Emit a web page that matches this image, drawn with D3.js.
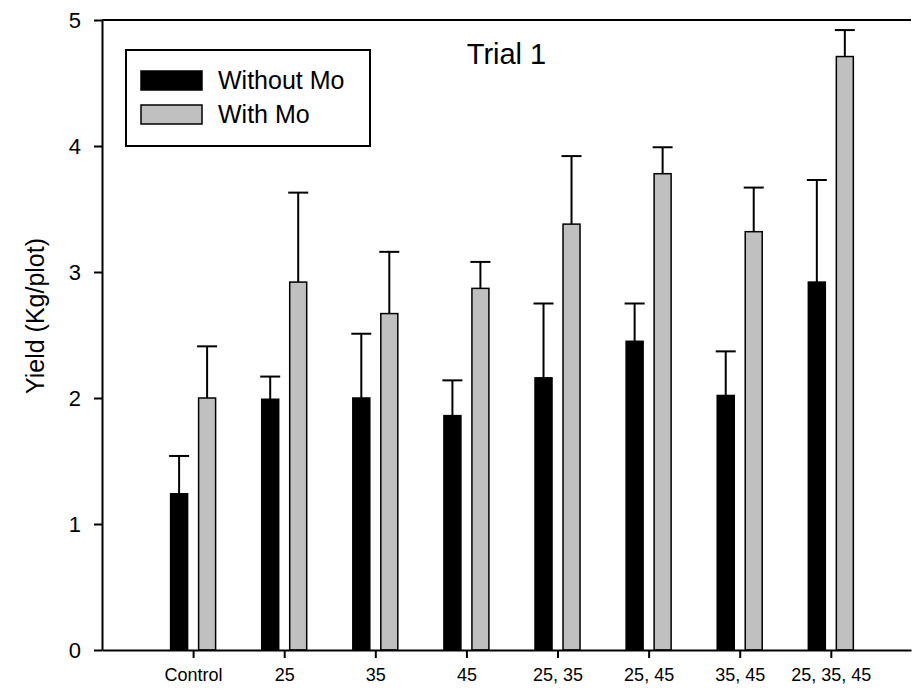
<!DOCTYPE html>
<html>
<head>
<meta charset="utf-8">
<script src="https://cdn.jsdelivr.net/npm/d3@7"></script>
<style>
  body { margin: 0; background: #fff; }
  svg text { font-family: "Liberation Sans", Arial, sans-serif; fill: #000; }
</style>
</head>
<body>
<div id="chart"></div>
<script>
// data
var categories = ["Control", "25", "35", "45", "25, 35", "25, 45", "35, 45", "25, 35, 45"];
var withoutMo = [1.24, 1.99, 2.00, 1.86, 2.16, 2.45, 2.02, 2.92];
var withoutMoErr = [0.30, 0.18, 0.51, 0.28, 0.59, 0.30, 0.35, 0.81];
var withMo = [2.00, 2.92, 2.67, 2.87, 3.38, 3.78, 3.32, 4.71];
var withMoErr = [0.41, 0.71, 0.49, 0.21, 0.54, 0.21, 0.35, 0.21];
var yTicks = [0, 1, 2, 3, 4, 5];

var width = 917, height = 694;
var margin = {top: 20, right: 6, bottom: 44, left: 102};

var svg = d3.select("#chart").append("svg")
    .attr("width", width)
    .attr("height", height);

// x is a plain index axis, categories sit on 1..8
var x = d3.scaleLinear().domain([0, 8.88]).range([margin.left, width - margin.right]);
var y = d3.scaleLinear().domain([0, 5]).range([height - margin.bottom, margin.top]);

var barW = 17, off = 14;

var series = [
  {name: "Without Mo", vals: withoutMo, err: withoutMoErr, fill: "#000", dx: -off},
  {name: "With Mo", vals: withMo, err: withMoErr, fill: "#c0c0c0", dx: off}
];

// error whiskers (upper only) drawn under the bars
series.forEach(function(s) {
  var g = svg.append("g").attr("stroke", "#000").attr("stroke-width", 2);
  g.selectAll("line.stem")
    .data(s.vals).enter().append("line")
      .attr("x1", function(d, i) { return x(i + 1) + s.dx; })
      .attr("x2", function(d, i) { return x(i + 1) + s.dx; })
      .attr("y1", function(d) { return y(d); })
      .attr("y2", function(d, i) { return y(d + s.err[i]); });
  g.selectAll("line.cap")
    .data(s.vals).enter().append("line")
      .attr("x1", function(d, i) { return x(i + 1) + s.dx - 10; })
      .attr("x2", function(d, i) { return x(i + 1) + s.dx + 10; })
      .attr("y1", function(d, i) { return y(d + s.err[i]); })
      .attr("y2", function(d, i) { return y(d + s.err[i]); });
});

series.forEach(function(s) {
  svg.append("g").selectAll("rect")
    .data(s.vals).enter().append("rect")
      .attr("x", function(d, i) { return x(i + 1) + s.dx - barW / 2; })
      .attr("y", function(d) { return y(d); })
      .attr("width", barW)
      .attr("height", function(d) { return y(0) - y(d); })
      .attr("fill", s.fill)
      .attr("stroke", "#000")
      .attr("stroke-width", 1.5);
});

// axes
var yAxis = svg.append("g")
    .attr("transform", "translate(" + margin.left + ",0)")
    .call(d3.axisLeft(y).tickValues(yTicks).tickFormat(d3.format("d"))
      .tickSize(8).tickPadding(13).tickSizeOuter(0));
yAxis.selectAll("text").style("font-size", "22px");

var xAxis = svg.append("g")
    .attr("transform", "translate(0," + y(0) + ")")
    .call(d3.axisBottom(x).tickValues(d3.range(1, 9)).tickSize(8).tickPadding(10).tickSizeOuter(0)
      .tickFormat(function(d) { return categories[d - 1]; }));
xAxis.selectAll("text").style("font-size", "18px");

svg.selectAll(".domain").attr("stroke-width", 2);
svg.selectAll(".tick line").attr("stroke-width", 2);

// top frame line
svg.append("line")
    .attr("x1", margin.left).attr("x2", width - margin.right)
    .attr("y1", y(5)).attr("y2", y(5))
    .attr("stroke", "#000").attr("stroke-width", 2);

// axis title
svg.append("text")
    .attr("transform", "translate(44," + ((y(0) + y(5)) / 2 - 19) + ") rotate(-90)")
    .attr("text-anchor", "middle")
    .style("font-size", "25px")
    .text("Yield (Kg/plot)");

svg.append("text")
    .attr("x", (x.range()[0] + x.range()[1]) / 2)
    .attr("y", 64)
    .attr("text-anchor", "middle")
    .style("font-size", "29px")
    .text("Trial 1");

// legend
var legend = svg.append("g").attr("transform", "translate(126,50)");
legend.append("rect")
    .attr("width", 244).attr("height", 96)
    .attr("fill", "#fff").attr("stroke", "#000").attr("stroke-width", 2);

var item = legend.selectAll(".item")
    .data(series).enter().append("g")
    .attr("class", "item")
    .attr("transform", function(d, i) { return "translate(15," + (21 + i * 34) + ")"; });

item.append("rect")
    .attr("width", 61).attr("height", 19)
    .attr("fill", function(d) { return d.fill; })
    .attr("stroke", "#000").attr("stroke-width", 1.5);

item.append("text")
    .attr("x", 77).attr("y", 18)
    .style("font-size", "25px")
    .text(function(d) { return d.name; });
</script>
</body>
</html>
